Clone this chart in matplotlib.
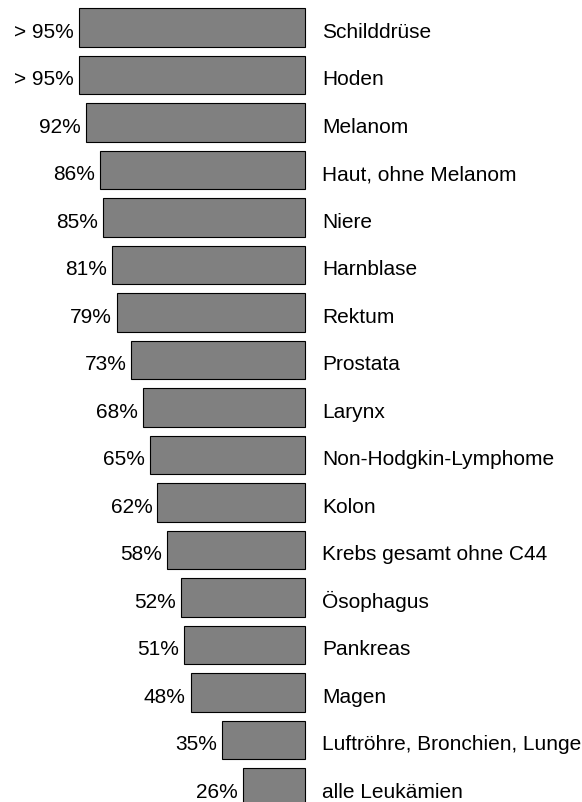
import matplotlib
matplotlib.use("Agg")
from matplotlib import pyplot as plt

plt.rcParams['font.family'] = ['Liberation Sans', 'DejaVu Sans']

# 5-Jahres-Ueberlebensraten
sites = ["Schilddrüse", "Hoden", "Melanom", "Haut, ohne Melanom", "Niere",
         "Harnblase", "Rektum", "Prostata", "Larynx", "Non-Hodgkin-Lymphome",
         "Kolon", "Krebs gesamt ohne C44", "Ösophagus", "Pankreas", "Magen",
         "Luftröhre, Bronchien, Lunge", "alle Leukämien"]
rates = [95, 95, 92, 86, 85, 81, 79, 73, 68, 65, 62, 58, 52, 51, 48, 35, 26]
rate_labels = ["> 95%", "> 95%", "92%", "86%", "85%", "81%", "79%", "73%",
               "68%", "65%", "62%", "58%", "52%", "51%", "48%", "35%", "26%"]

fig = plt.figure(figsize=(5.82, 8.03), dpi=100)
ax = fig.add_axes([0, 0, 1, 1])

ypos = list(range(len(sites)))
ax.barh(ypos, rates, height=0.82, color='#808080', edgecolor='black', linewidth=0.8)

for y, r, lab, site in zip(ypos, rates, rate_labels, sites):
    ax.annotate(lab, (r, y), xytext=(-5, -9), textcoords='offset pixels',
                ha='right', va='baseline', fontsize=15)
    ax.annotate(site, (0, y), xytext=(17, -9), textcoords='offset pixels',
                ha='left', va='baseline', fontsize=15)

# bars grow to the left from a common right edge
ax.set_xlim(128.15, -116.4)
ax.set_ylim(16.305, -0.6)
ax.axis('off')

fig.savefig('out.png', dpi=100)
